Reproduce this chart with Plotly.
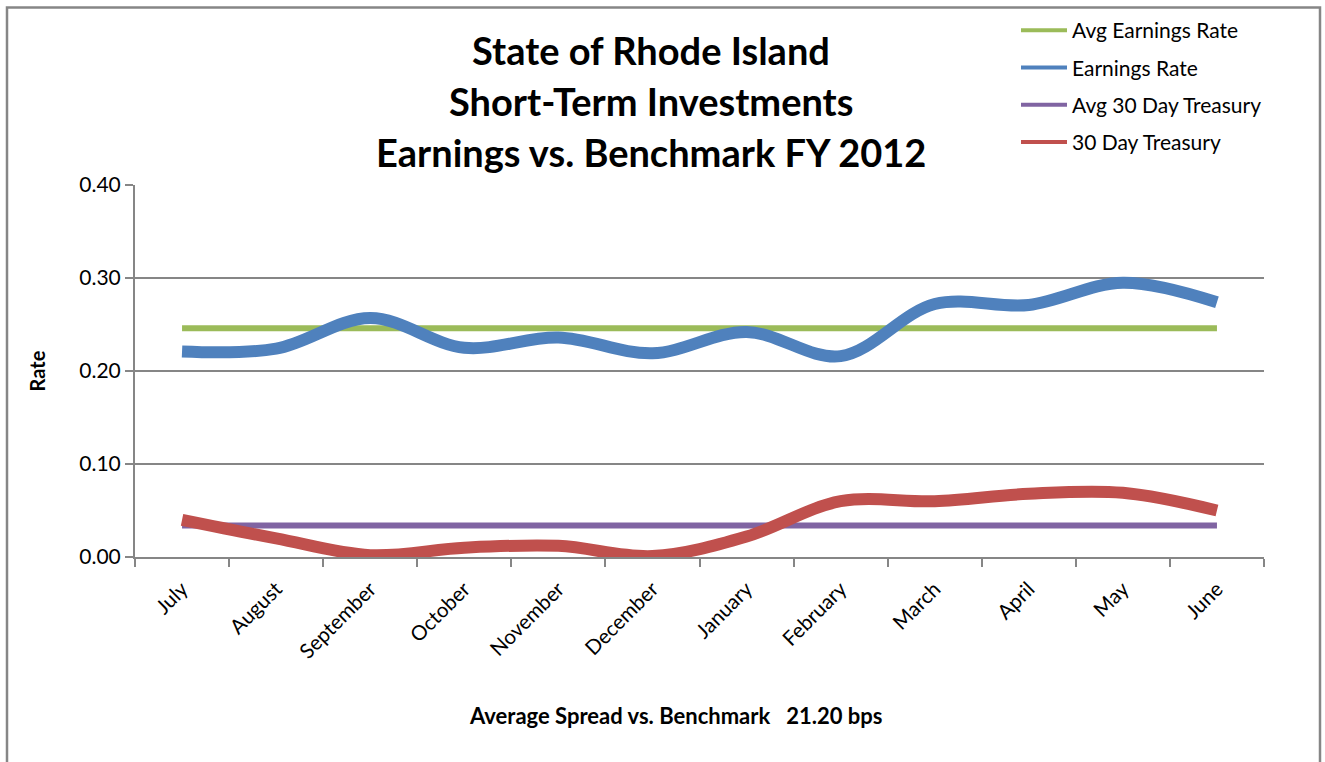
import plotly.graph_objects as go

months = ["July", "August", "September", "October", "November", "December",
          "January", "February", "March", "April", "May", "June"]
earnings_rate = [0.221, 0.224, 0.257, 0.225, 0.236, 0.219, 0.242, 0.216, 0.272, 0.271, 0.295, 0.274]
treasury_30 = [0.040, 0.020, 0.002, 0.010, 0.012, 0.001, 0.022, 0.060, 0.060, 0.068, 0.069, 0.050]
avg_earnings_value = 0.246
avg_treasury_value = 0.034
avg_earnings = [avg_earnings_value] * len(months)
avg_treasury = [avg_treasury_value] * len(months)

title_lines = ["State of Rhode Island", "Short-Term Investments", "Earnings vs. Benchmark FY 2012"]
footer_text = "Average Spread vs. Benchmark\u00a0\u00a0\u00a021.20 bps"
y_ticks = [0.0, 0.1, 0.2, 0.3, 0.4]

GREEN = "#9BBB59"
BLUE = "#4F81BD"
PURPLE = "#8064A2"
RED = "#C0504D"
GRAY = "#868686"
FONT = "Lato"

W, H = 1325, 762
L, R, T, B = 135, 1264, 184, 557   # plot area pixel box


def px(xp):
    return (xp - L) / (R - L)


def py(yp):
    return (B - yp) / (B - T)


series = [
    ("Avg Earnings Rate", avg_earnings, GREEN, 6),
    ("Earnings Rate", earnings_rate, BLUE, 12),
    ("Avg 30 Day Treasury", avg_treasury, PURPLE, 6),
    ("30 Day Treasury", treasury_30, RED, 12),
]

fig = go.Figure()
for i, (name, vals, color, width) in enumerate(series):
    fig.add_trace(go.Scatter(
        x=months, y=vals, mode="lines", name=name, showlegend=False,
        line=dict(color=color, width=width, shape="spline", smoothing=1),
        hoverinfo="skip"))
for i, (name, vals, color, width) in enumerate(series):
    fig.add_trace(go.Scatter(
        x=[None], y=[None], mode="lines", name=name, legendgroup=f"g{i}",
        line=dict(color=color, width=4), showlegend=True))

annotations = []
title_centers = [50, 101, 152]
for text, yc in zip(title_lines, title_centers):
    annotations.append(dict(
        text=f"<b>{text}</b>", x=px(651), y=py(yc - 1), xref="paper", yref="paper",
        xanchor="center", yanchor="middle", showarrow=False,
        font=dict(family=FONT, size=38, color="black")))
annotations.append(dict(
    text=f"<b>{footer_text}</b>", x=px(676), y=py(716), xref="paper", yref="paper",
    xanchor="center", yanchor="middle", showarrow=False,
    font=dict(family=FONT, size=22, color="black")))

fig.update_layout(
    width=W, height=H,
    margin=dict(l=L, r=W - R, t=T, b=H - B, pad=0),
    paper_bgcolor="white", plot_bgcolor="white",
    font=dict(family=FONT, size=18, color="black"),
    showlegend=True,
    legend=dict(
        x=px(1016), y=py(10), xanchor="left", yanchor="top",
        traceorder="grouped", tracegroupgap=7, itemwidth=46,
        font=dict(family=FONT, size=21, color="black"),
        bgcolor="rgba(0,0,0,0)"),
    xaxis=dict(
        type="category", categoryorder="array", categoryarray=months,
        range=[-0.5, len(months) - 0.5],
        tickson="boundaries", ticks="outside", ticklen=8, tickwidth=1.5, tickcolor=GRAY,
        showline=True, linecolor=GRAY, linewidth=2, showgrid=False,
        tickangle=-45, ticklabelstandoff=10,
        tickfont=dict(family=FONT, size=20.5, color="black"),
        fixedrange=True),
    yaxis=dict(
        range=[0, 0.4], tickvals=y_ticks, tickformat=".2f",
        ticks="outside", ticklen=8, tickwidth=1.5, tickcolor=GRAY,
        showline=True, linecolor=GRAY, linewidth=2,
        showgrid=True, gridcolor=GRAY, gridwidth=1.5, zeroline=False,
        tickfont=dict(family=FONT, size=21, color="black"),
        title=dict(text="<b>Rate</b>", standoff=28, font=dict(family=FONT, size=20, color="black")),
        fixedrange=True),
    annotations=annotations,
    shapes=[dict(type="rect", xref="paper", yref="paper",
                 x0=px(7), x1=px(1320), y0=py(800), y1=py(6),
                 line=dict(color=GRAY, width=2.5), fillcolor="rgba(0,0,0,0)", layer="below")],
)

fig.write_html("out.html", config={"displayModeBar": False},
               post_script="document.body.style.margin='0';document.body.style.overflow='hidden';")
